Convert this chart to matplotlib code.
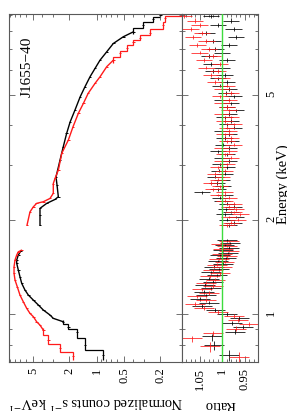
"""J1655-40 spectrum and data/model ratio, drawn in the rotated (portrait) layout.

   plot.py
"""

import numpy as np
from matplotlib import pyplot as plt
from matplotlib.ticker import MultipleLocator, NullFormatter

plt.rcParams["font.family"] = ["Liberation Serif", "DejaVu Serif"]
plt.rcParams["mathtext.fontset"] = "stix"

# normalized counts, low-energy segment (keV, counts s^-1 keV^-1)
black_lo_E = [0.742, 0.798, 0.880, 0.913, 0.947, 0.971, 0.995, 1.032, 1.071, 1.11,
              1.152, 1.195, 1.255, 1.317, 1.384, 1.454, 1.489, 1.545, 1.594]
black_lo_C = [0.86, 1.34, 1.66, 2.05, 2.33, 3.0, 3.26, 3.86, 4.38, 4.97,
              5.64, 6.14, 6.67, 6.97, 7.27, 7.57, 7.57, 7.27, 6.8]
red_lo_E = [0.737, 0.784, 0.828, 0.891, 0.924, 0.947, 0.983, 1.007, 1.045, 1.097,
            1.152, 1.224, 1.286, 1.351, 1.418, 1.489, 1.545, 1.582, 1.60]
red_lo_C = [1.81, 2.53, 3.40, 3.86, 4.2, 4.57, 4.97, 5.41, 5.88, 6.41,
            6.97, 7.46, 7.9, 8.1, 8.1, 7.9, 7.57, 7.27, 6.7]

# normalized counts, high-energy segment
black_hi_E = [1.925, 2.07, 2.176, 2.257, 2.323, 2.369, 2.58, 2.74, 3.10, 3.42,
              3.77, 4.10, 4.48, 4.93, 5.31, 5.71, 6.07, 6.45, 6.86, 7.29,
              7.66, 7.94, 8.34, 8.70, 9.0]
black_hi_C = [4.2, 4.2, 4.2, 3.54, 2.87, 2.64, 2.73, 2.80, 2.53, 2.33,
              2.14, 1.96, 1.73, 1.52, 1.345, 1.185, 1.044, 0.92, 0.776, 0.657,
              0.51, 0.396, 0.308, 0.239, 0.20]
red_hi_E = [1.925, 2.12, 2.20, 2.257, 2.284, 2.34, 2.43, 2.61, 2.71, 2.88,
            3.26, 3.59, 3.96, 4.37, 4.70, 5.06, 5.44, 5.71, 6.15, 6.45,
            6.78, 7.03, 7.38, 7.61, 7.90, 8.34, 8.78, 9.0]
red_hi_C = [5.83, 5.41, 4.97, 4.57, 3.86, 3.26, 3.0, 3.0, 2.87, 2.64,
            2.42, 2.05, 1.82, 1.59, 1.40, 1.24, 1.044, 0.92, 0.776, 0.657,
            0.555, 0.468, 0.396, 0.334, 0.26, 0.187, 0.178, 0.116]
counts_rel_err = 0.03

# data/model ratio
ratio_lo_E_black = [0.74, 0.80, 0.85, 0.88, 0.91, 0.94, 0.97, 1.00, 1.03, 1.06,
                    1.09, 1.12, 1.15, 1.18, 1.21, 1.24, 1.27, 1.30, 1.33, 1.36,
                    1.39, 1.42, 1.45, 1.48, 1.51, 1.54, 1.57, 1.60, 1.63, 1.66,
                    1.69, 1.72]
ratio_lo_black = [0.985, 1.018, 1.022, 0.972, 0.955, 0.978, 0.962, 0.99, 1.015, 1.045,
                  1.03, 1.05, 1.035, 1.04, 1.025, 1.038, 1.02, 1.03, 1.012, 1.025,
                  1.008, 1.018, 0.998, 1.01, 0.992, 1.005, 0.988, 0.998, 0.985, 0.995,
                  0.982, 0.99]
ratio_lo_E_red = [0.73, 0.79, 0.84, 0.87, 0.90, 0.93, 0.96, 0.99, 1.02, 1.05,
                  1.08, 1.11, 1.14, 1.17, 1.20, 1.23, 1.26, 1.29, 1.32, 1.35,
                  1.38, 1.41, 1.44, 1.47, 1.50, 1.53, 1.56, 1.59, 1.62, 1.65,
                  1.68, 1.71]
ratio_lo_red = [0.963, 1.028, 1.066, 1.02, 0.97, 0.94, 0.965, 0.975, 1.01, 1.04,
                1.06, 1.035, 1.055, 1.03, 1.045, 1.02, 1.035, 1.015, 1.028, 1.005,
                1.02, 1.0, 1.012, 0.995, 1.008, 0.99, 1.0, 0.985, 0.998, 0.99,
                1.002, 0.985]
ratio_hi_E = [1.92, 1.96, 2.00, 2.04, 2.08, 2.12, 2.16, 2.20, 2.25, 2.30,
              2.35, 2.40, 2.45, 2.50, 2.56, 2.62, 2.68, 2.74, 2.80, 2.87,
              2.94, 3.01, 3.08, 3.15, 3.23, 3.31, 3.39, 3.47, 3.56, 3.65,
              3.74, 3.83, 3.93, 4.03, 4.13, 4.24, 4.35, 4.46, 4.58, 4.70,
              4.82, 4.95, 5.08, 5.21, 5.35, 5.49, 5.64, 5.79, 5.95, 6.11,
              6.28, 6.45, 6.63, 6.82, 7.01, 7.21, 7.42, 7.64, 7.87, 8.11,
              8.36, 8.62, 8.90]
ratio_hi_black = [0.985, 0.975, 0.99, 0.97, 0.995, 0.98, 0.992, 0.975, 0.99, 1.0,
                  1.005, 0.995, 1.045, 1.01, 0.998, 1.012, 1.0, 1.015, 0.995, 1.008,
                  0.99, 1.005, 0.985, 1.0, 0.99, 1.01, 0.985, 0.998, 0.98, 0.995,
                  0.985, 1.0, 0.975, 0.99, 0.98, 0.995, 0.985, 0.97, 0.99, 0.98,
                  1.0, 0.975, 0.992, 0.985, 1.005, 0.99, 1.01, 0.995, 1.02, 1.0,
                  1.025, 0.99, 1.03, 1.0, 1.015, 0.985, 1.02, 0.97, 1.035, 0.975,
                  1.01, 0.98, 1.025]
ratio_hi_red = [0.99, 0.98, 0.965, 0.985, 0.96, 0.975, 0.97, 0.985, 0.975, 0.995,
                0.985, 1.01, 0.995, 1.02, 1.005, 1.025, 1.01, 1.0, 1.015, 0.995,
                1.01, 0.99, 1.0, 0.98, 0.995, 0.985, 1.0, 0.975, 0.99, 0.98,
                0.995, 0.985, 0.99, 0.975, 0.995, 0.98, 1.0, 0.985, 0.99, 1.0,
                0.985, 1.005, 0.98, 1.0, 0.99, 1.015, 1.0, 1.025, 1.01, 1.035,
                1.005, 1.04, 1.02, 1.05, 1.03, 1.055, 1.035, 1.065, 1.045, 1.07,
                1.05, 1.06, 1.085]
ratio_err_lo = 0.022
ratio_err_hi = 0.018

BLACK = "#000000"
RED = "#ff1a1a"
FRAME = "0.35"


def edges_from_centres(e):
    e = np.asarray(e, float)
    mid = np.sqrt(e[:-1] * e[1:])
    return np.concatenate([[e[0] ** 2 / mid[0]], mid, [e[-1] ** 2 / mid[-1]]])


def draw_counts(ax, energies, counts, color, n_first=0, n_last=0):
    """Wide bins at the ends as steps, the densely binned middle as a line."""
    e = np.asarray(energies, float)
    c = np.asarray(counts, float)
    edges = edges_from_centres(e)
    n = len(e)
    if n_first:
        ax.stairs(c[:n_first], edges[:n_first + 1], orientation="horizontal",
                  baseline=None, color=color, lw=0.9)
    if n_last:
        ax.stairs(c[n - n_last:], edges[n - n_last:], orientation="horizontal",
                  baseline=None, color=color, lw=0.9)
    lo = max(n_first - 1, 0)
    hi = n - max(n_last - 1, 0)
    ax.plot(c[lo:hi], e[lo:hi], color=color, lw=1.0)
    ax.errorbar(c, e, xerr=c * counts_rel_err, fmt="none",
                ecolor=color, elinewidth=0.7)


def draw_ratio(ax, energies, ratio, err, color, alpha):
    e = np.asarray(energies, float)
    edges = edges_from_centres(e)
    ax.errorbar(ratio, e, xerr=err, yerr=[e - edges[:-1], edges[1:] - e],
                fmt="none", ecolor=color, elinewidth=0.7, alpha=alpha)


def style_axis(ax):
    ax.tick_params(which="both", direction="in", top=True, bottom=True,
                   left=True, right=True, color=FRAME, width=0.6, labelsize=9)
    ax.tick_params(which="major", length=4)
    ax.tick_params(which="minor", length=2.5)
    ax.tick_params(axis="x", labelrotation=90, pad=4)
    for spine in ax.spines.values():
        spine.set_color(FRAME)
        spine.set_linewidth(0.8)


def main():
    fig = plt.figure(figsize=(2.87, 4.11), dpi=100)
    ax1 = fig.add_axes([9 / 287, 49 / 411, 173 / 287, 348 / 411])
    ax2 = fig.add_axes([182 / 287, 49 / 411, 76 / 287, 348 / 411], sharey=ax1)

    draw_counts(ax1, black_lo_E, black_lo_C, BLACK, n_first=5)
    draw_counts(ax1, black_hi_E, black_hi_C, BLACK, n_last=4)
    draw_counts(ax1, red_lo_E, red_lo_C, RED, n_first=4)
    draw_counts(ax1, red_hi_E, red_hi_C, RED, n_last=9)

    ax2.axvline(1.0, color="#3ddc3d", lw=1.0, zorder=3)
    draw_ratio(ax2, ratio_lo_E_black, ratio_lo_black, ratio_err_lo, BLACK, 0.8)
    draw_ratio(ax2, ratio_hi_E, ratio_hi_black, ratio_err_hi, BLACK, 0.8)
    draw_ratio(ax2, ratio_lo_E_red, ratio_lo_red, ratio_err_lo, RED, 0.8)
    draw_ratio(ax2, ratio_hi_E, ratio_hi_red, ratio_err_hi, RED, 0.8)

    ax1.set_xscale("log")
    ax1.set_yscale("log")
    ax1.set_xlim(9.2, 0.1156)
    ax1.set_ylim(0.705, 9.05)
    ax2.set_xlim(1.089, 0.921)

    ax1.set_xticks([0.2, 0.5, 1, 2, 5], ["0.2", "0.5", "1", "2", "5"])
    ax1.set_xticks([0.3, 0.4, 0.6, 0.7, 0.8, 0.9, 3, 4, 6, 7, 8, 9], minor=True)
    ax1.xaxis.set_minor_formatter(NullFormatter())
    ax1.set_yticks([1, 2, 5], ["1", "2", "5"])
    ax1.set_yticks([0.8, 0.9, 3, 4, 6, 7, 8, 9], minor=True)
    ax1.yaxis.set_minor_formatter(NullFormatter())

    ax2.set_xticks([0.95, 1, 1.05], ["0.95", "1", "1.05"])
    ax2.xaxis.set_minor_locator(MultipleLocator(0.01))

    style_axis(ax1)
    style_axis(ax2)
    ax1.tick_params(axis="y", labelleft=False, labelright=False)
    ax2.tick_params(axis="y", labelleft=False, labelright=True,
                    labelrotation=90, pad=5)

    fig.text(95.5 / 287, 1 - 403 / 411, "Normalized counts s$^{-1}$ keV$^{-1}$",
             rotation=180, ha="center", va="center", fontsize=10.5)
    fig.text(220 / 287, 1 - 404 / 411, "Ratio", rotation=180,
             ha="center", va="center", fontsize=10.5)
    fig.text(283 / 287, 1 - 184 / 411, "Energy (keV)", rotation=90,
             ha="center", va="center", fontsize=10.5)
    fig.text(27 / 287, 1 - 67 / 411, "J1655\u221240", rotation=90,
             ha="center", va="center", fontsize=11)

    fig.savefig("out.png", dpi=100)


if __name__ == "__main__":
    main()
